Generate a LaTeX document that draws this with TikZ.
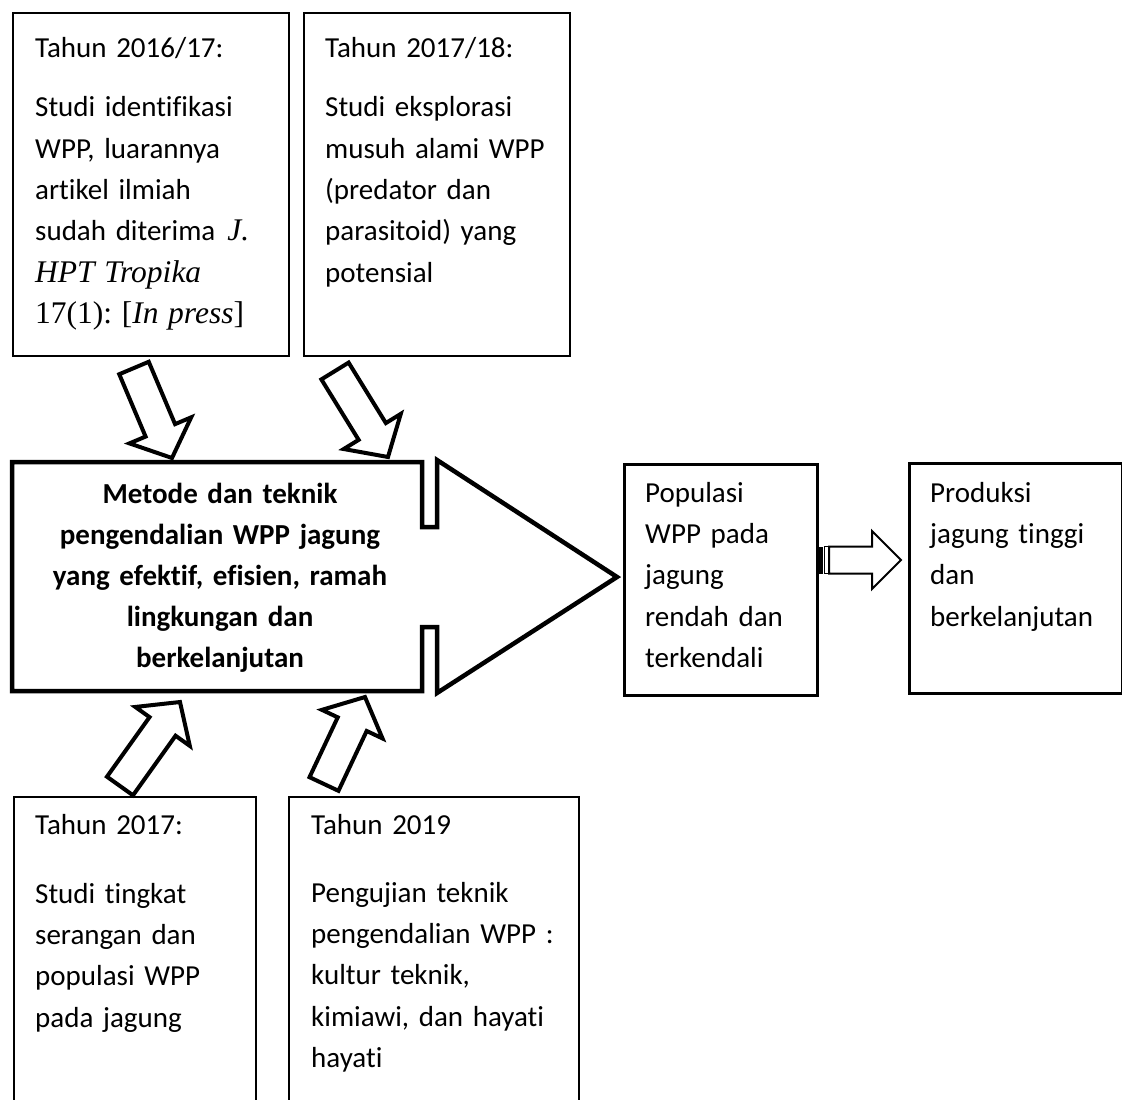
\documentclass[tikz,border=0pt]{standalone}
\usepackage{fontspec}
\setmainfont[Ligatures=NoCommon]{Carlito}
\newfontfamily\tnr{Liberation Serif}
\usetikzlibrary{calc}
\frenchspacing
\newcommand{\tnrsize}{\tnr\fontsize{31.5pt}{41.3pt}\selectfont}
\newcommand{\fstrut}{\rule{0pt}{24pt}}
\tikzset{
  frame/.style={draw, line width=2.4pt, inner sep=0pt, anchor=north west},
  thickframe/.style={frame, line width=3pt},
  txt/.style={inner sep=0pt, anchor=north west, text width=#1, align=left,
              font=\fontsize{29pt}{41.3pt}\selectfont},
  blk/.style={draw, line width=4pt, fill=white, line join=miter},
  bigarrow/.style={draw, line width=4.5pt, line join=miter, fill=white},
}
\newcommand{\blockarrow}[2]{%
  \draw[blk] let \p1=($(#2)-(#1)$), \n1={veclen(\x1,\y1)}, \n2={atan2(\y1,\x1)} in
    [shift={(#1)}, rotate=\n2]
    (0pt,-16pt) -- ({\n1-30pt},-16pt) -- ({\n1-30pt},-33.5pt) -- (\n1,0pt)
    -- ({\n1-30pt},33.5pt) -- ({\n1-30pt},16pt) -- (0pt,16pt) -- cycle;
}
\begin{document}
\frenchspacing
\begin{tikzpicture}[x=1pt,y=-1pt]
\useasboundingbox (0,0) rectangle (1122,1100);
\fill[white] (0,0) rectangle (1122,1100);
\clip (0,0) rectangle (1122,1100);

% boxes
\node[frame, minimum width=276pt, minimum height=343pt] (b1) at (12,12) {};
\node[frame, minimum width=266pt, minimum height=343pt] (b2) at (303,12) {};
\node[thickframe, minimum width=193pt, minimum height=231pt] (b3) at (623,463) {};
\node[thickframe, minimum width=212.5pt, minimum height=230pt] (b4) at (908,462) {};
\node[frame, minimum width=242pt, minimum height=330pt] (b5) at (13,796) {};
\node[frame, minimum width=290pt, minimum height=330pt] (b6) at (288,796) {};

% texts
\node[txt=262pt] (t1) at (35,33) {\fstrut Tahun 2016/17:\\[18.4pt]
Studi identifikasi\\
WPP, luarannya\\
artikel ilmiah\\
sudah diterima\hspace{12pt}{\tnrsize\itshape J.}\\
{\tnrsize\itshape HPT Tropika}\\
{\tnrsize 17(1): [\textit{In press}]}};

\node[txt=240pt] (t2) at (325,33) {\fstrut Tahun 2017/18:\\[18.4pt]
Studi eksplorasi\\
musuh alami WPP\\
(predator dan\\
parasitoid) yang\\
potensial};

\node[txt=170pt] (t3) at (645,478) {\fstrut Populasi\\
WPP pada\\
jagung\\
rendah dan\\
terkendali};

\node[txt=185pt] (t4) at (930,478) {\fstrut Produksi\\
jagung tinggi\\
dan\\
berkelanjutan};

\node[txt=215pt] (t5) at (35,810) {\fstrut Tahun 2017:\\[27.7pt]
Studi tingkat\\
serangan dan\\
populasi WPP\\
pada jagung};

\node[txt=265pt] (t6) at (311,810) {\fstrut Tahun 2019\\[26.7pt]
Pengujian teknik\\
pengendalian WPP :\\
kultur teknik,\\
kimiawi, dan hayati\\
hayati};

% big arrow
\draw[bigarrow] (12,462) -- (422,462) -- (422,527) -- (437,527) -- (437,460)
  -- (617,577) -- (437,693) -- (437,627) -- (422,627) -- (422,691) -- (12,691) -- cycle;
\node[inner sep=0pt, anchor=north, text width=400pt, align=center,
      font=\bfseries\fontsize{29pt}{41pt}\selectfont] (m) at (220,479)
  {\fstrut Metode dan teknik\\
   pengendalian WPP jagung\\
   yang efektif, efisien, ramah\\
   lingkungan dan\\
   berkelanjutan};

% block arrows
\coordinate (a1t) at (134,368); \coordinate (a1h) at (172,458);
\coordinate (a2t) at (335,371); \coordinate (a2h) at (388,457);
\coordinate (a3t) at (120,786); \coordinate (a3h) at (180,702);
\coordinate (a4t) at (324,784); \coordinate (a4h) at (365,697);
\blockarrow{a1t}{a1h}
\blockarrow{a2t}{a2h}
\blockarrow{a3t}{a3h}
\blockarrow{a4t}{a4h}

% striped arrow from b3 to b4
\coordinate (s0) at (b3.east |- 0,560);
\begin{scope}[shift={(s0)}]
  \fill (-1,-13.5) rectangle (3.5,13.5);
  \draw[line width=1.5pt] (5.5,-13.5) rectangle (10,13.5);
  \draw[line width=2pt, fill=white, line join=miter] (10,-13.5) -- (53,-13.5) -- (53,-29)
    -- (82,0) -- (53,29) -- (53,13.5) -- (10,13.5) -- cycle;
\end{scope}
\end{tikzpicture}
\end{document}
